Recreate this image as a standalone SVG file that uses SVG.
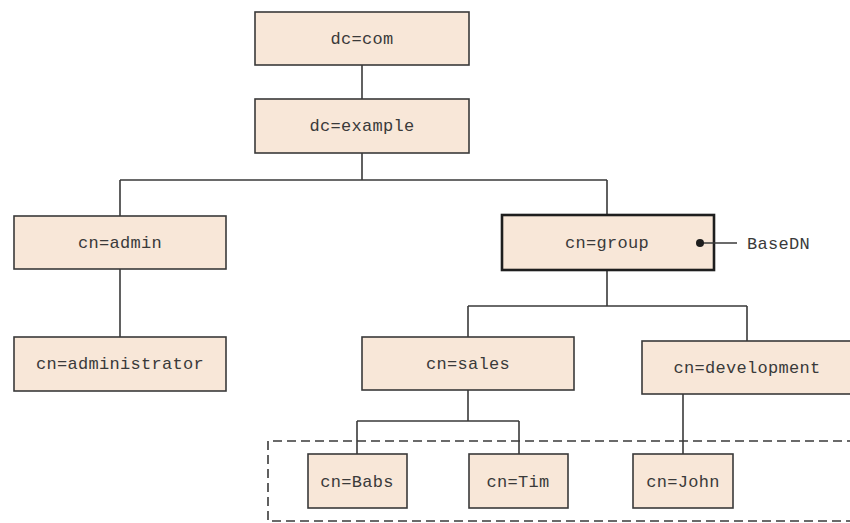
<svg xmlns="http://www.w3.org/2000/svg" width="850" height="523" viewBox="0 0 850 523">
  <style>
    .node rect { fill: #f8e7d8; stroke: #3a3a3a; stroke-width: 1.6; }
    .node.base rect { stroke: #1e1e1e; stroke-width: 2.6; }
    .label { font-family: "Liberation Mono", "DejaVu Sans Mono", monospace; font-size: 17px; letter-spacing: 0.3px; fill: #3a3a3a; text-anchor: middle; }
    .conn { fill: none; stroke: #3a3a3a; stroke-width: 1.6; }
    .scope { fill: none; stroke: #3a3a3a; stroke-width: 1.6; stroke-dasharray: 9 5; }
  </style>

  <!-- connectors -->
  <g id="connectors">
    <path class="conn" d="M362 65 V99"/>
    <path class="conn" d="M362 153 V180 M120 180 H607 M120 180 V216 M607 180 V215"/>
    <path class="conn" d="M120 269 V337"/>
    <path class="conn" d="M607 270 V306 M468 306 H747 M468 306 V337 M747 306 V341"/>
    <path class="conn" d="M468 390 V421 M357 421 H519 M357 421 V454 M519 421 V454"/>
    <path class="conn" d="M683 394 V454"/>
  </g>

  <!-- search scope -->
  <path id="scope" class="scope" d="M856 441 H268 V521 H856"/>

  <g id="dc-com" class="node">
    <rect x="255" y="12" width="214" height="53"/>
    <text class="label" x="362" y="44">dc=com</text>
  </g>
  <g id="dc-example" class="node">
    <rect x="255" y="99" width="214" height="54"/>
    <text class="label" x="362" y="131">dc=example</text>
  </g>
  <g id="cn-admin" class="node">
    <rect x="14" y="216" width="212" height="53"/>
    <text class="label" x="120" y="248">cn=admin</text>
  </g>
  <g id="cn-administrator" class="node">
    <rect x="14" y="337" width="212" height="54"/>
    <text class="label" x="120" y="369">cn=administrator</text>
  </g>
  <g id="cn-group" class="node base">
    <rect x="502" y="215" width="212" height="55"/>
    <text class="label" x="607" y="248">cn=group</text>
  </g>
  <!-- BaseDN marker -->
  <g id="basedn">
    <path class="conn" d="M700 243 H737"/>
    <circle cx="700" cy="243" r="4" fill="#1e1e1e"/>
    <text class="label" x="747" y="249" style="text-anchor:start">BaseDN</text>
  </g>
  <g id="cn-sales" class="node">
    <rect x="362" y="337" width="212" height="53"/>
    <text class="label" x="468" y="369">cn=sales</text>
  </g>
  <g id="cn-development" class="node">
    <rect x="642" y="341" width="212" height="53"/>
    <text class="label" x="747" y="373">cn=development</text>
  </g>
  <g id="cn-babs" class="node">
    <rect x="308" y="454" width="99" height="54"/>
    <text class="label" x="357" y="487">cn=Babs</text>
  </g>
  <g id="cn-tim" class="node">
    <rect x="469" y="454" width="99" height="54"/>
    <text class="label" x="518" y="487">cn=Tim</text>
  </g>
  <g id="cn-john" class="node">
    <rect x="633" y="454" width="100" height="54"/>
    <text class="label" x="683" y="487">cn=John</text>
  </g>
</svg>
